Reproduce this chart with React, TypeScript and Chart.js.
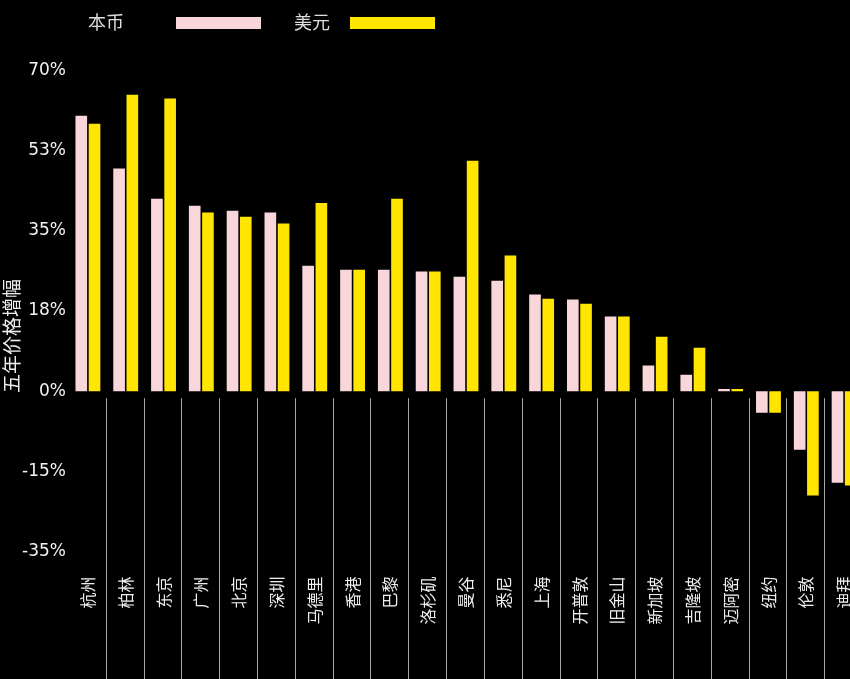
import React, { useEffect, useRef } from 'react';
import { Chart, registerables } from 'chart.js';

Chart.register(...registerables);

const categories = ['杭州', '柏林', '东京', '广州', '北京', '深圳', '马德里', '香港', '巴黎', '洛杉矶', '曼谷', '悉尼', '上海', '开普敦', '旧金山', '新加坡', '吉隆坡', '迈阿密', '纽约', '伦敦', '迪拜'];
const localCurrency = [60.1, 48.6, 42.0, 40.5, 39.4, 39.0, 27.4, 26.5, 26.5, 26.1, 25.0, 24.1, 21.1, 20.0, 16.3, 5.6, 3.6, 0.5, -4.7, -12.8, -20.0];
const usDollar = [58.4, 64.7, 63.9, 39.0, 38.1, 36.6, 41.1, 26.5, 42.0, 26.1, 50.3, 29.6, 20.2, 19.1, 16.3, 11.9, 9.5, 0.5, -4.7, -22.8, -20.6];
const seriesNames = ['本币', '美元'];
const seriesColors = ['#f9d6d9', '#ffe500'];
const yTickValues = [-35, -17.5, 0, 17.5, 35, 52.5, 70];
const yTickLabels = ['-35%', '-15%', '0%', '18%', '35%', '53%', '70%'];
const yAxisTitle = '五年价格增幅';

const CJK = '"Noto Sans CJK SC", "Noto Sans", sans-serif';

const separatorPlugin = {
  id: 'separators',
  afterDatasetsDraw(chart: any) {
    const { ctx } = chart;
    const xs = chart.scales.x;
    const ys = chart.scales.y;
    const y0 = ys.getPixelForValue(0) + 7;
    ctx.save();
    ctx.strokeStyle = '#a8a8a8';
    ctx.lineWidth = 1;
    for (let i = 1; i < categories.length; i++) {
      const x = (xs.getPixelForValue(i - 1) + xs.getPixelForValue(i)) / 2;
      const px = Math.round(x) - 0.5;
      ctx.beginPath();
      ctx.moveTo(px, y0);
      ctx.lineTo(px, chart.height);
      ctx.stroke();
    }
    ctx.restore();
  },
};

const yTitlePlugin = {
  id: 'yTitle',
  afterDraw(chart: any) {
    const { ctx } = chart;
    ctx.save();
    ctx.translate(12, 336);
    ctx.rotate(-Math.PI / 2);
    ctx.textAlign = 'center';
    ctx.textBaseline = 'middle';
    ctx.font = `19px ${CJK}`;
    ctx.fillStyle = '#eeeeee';
    ctx.fillText(yAxisTitle, 0, 0);
    ctx.restore();
  },
};

export default function App() {
  const ref = useRef<HTMLCanvasElement>(null);

  useEffect(() => {
    if (!ref.current) return;
    const chart = new Chart(ref.current, {
      type: 'bar',
      data: {
        labels: categories,
        datasets: [
          { label: seriesNames[0], data: localCurrency, backgroundColor: seriesColors[0], borderWidth: 0, categoryPercentage: 0.7, barPercentage: 0.88 },
          { label: seriesNames[1], data: usDollar, backgroundColor: seriesColors[1], borderWidth: 0, categoryPercentage: 0.7, barPercentage: 0.88 },
        ],
      },
      options: {
        responsive: false,
        animation: false,
        devicePixelRatio: 1,
        layout: { padding: { top: 70.5, right: 17, left: 0, bottom: 0 } },
        plugins: { legend: { display: false }, tooltip: { enabled: false } },
        scales: {
          x: {
            grid: { display: false, drawTicks: false },
            border: { display: false },
            ticks: {
              color: '#eeeeee',
              font: { family: CJK, size: 16 },
              padding: 25,
              maxRotation: 90,
              minRotation: 90,
              autoSkip: false,
            },
            afterFit: (s: any) => {
              s.height = 127.5;
              s.paddingLeft = 0;
              s.paddingRight = 0;
            },
          },
          y: {
            min: -35,
            max: 70,
            grid: { display: false, drawTicks: false },
            border: { display: false },
            afterBuildTicks: (s: any) => { s.ticks = yTickValues.map((v) => ({ value: v })); },
            ticks: {
              color: '#f2f2f2',
              font: { family: '"DejaVu Sans", sans-serif', size: 17 },
              padding: 3,
              callback: (v: any) => yTickLabels[yTickValues.indexOf(Number(v))] ?? '',
            },
            afterFit: (s: any) => {
              s.width = 69;
              s.paddingTop = 0;
              s.paddingBottom = 0;
            },
          },
        },
      },
      plugins: [separatorPlugin, yTitlePlugin],
    });
    return () => chart.destroy();
  }, []);

  const legendText: React.CSSProperties = {
    position: 'absolute', top: 12, fontFamily: CJK, fontSize: 18, lineHeight: '18px', color: '#dddddd', whiteSpace: 'nowrap',
  };
  const legendBox: React.CSSProperties = { position: 'absolute', top: 17, width: 85, height: 12 };

  return (
    <div style={{ position: 'fixed', left: 0, top: 0, width: 850, height: 679, overflow: 'hidden', background: '#000' }}>
      <canvas ref={ref} width={880} height={679} style={{ position: 'absolute', left: 0, top: 0, width: 880, height: 679 }} />
      <div style={{ ...legendText, left: 88 }}>{seriesNames[0]}</div>
      <div style={{ ...legendBox, left: 176, background: seriesColors[0] }} />
      <div style={{ ...legendText, left: 294 }}>{seriesNames[1]}</div>
      <div style={{ ...legendBox, left: 350, background: seriesColors[1] }} />
    </div>
  );
}
